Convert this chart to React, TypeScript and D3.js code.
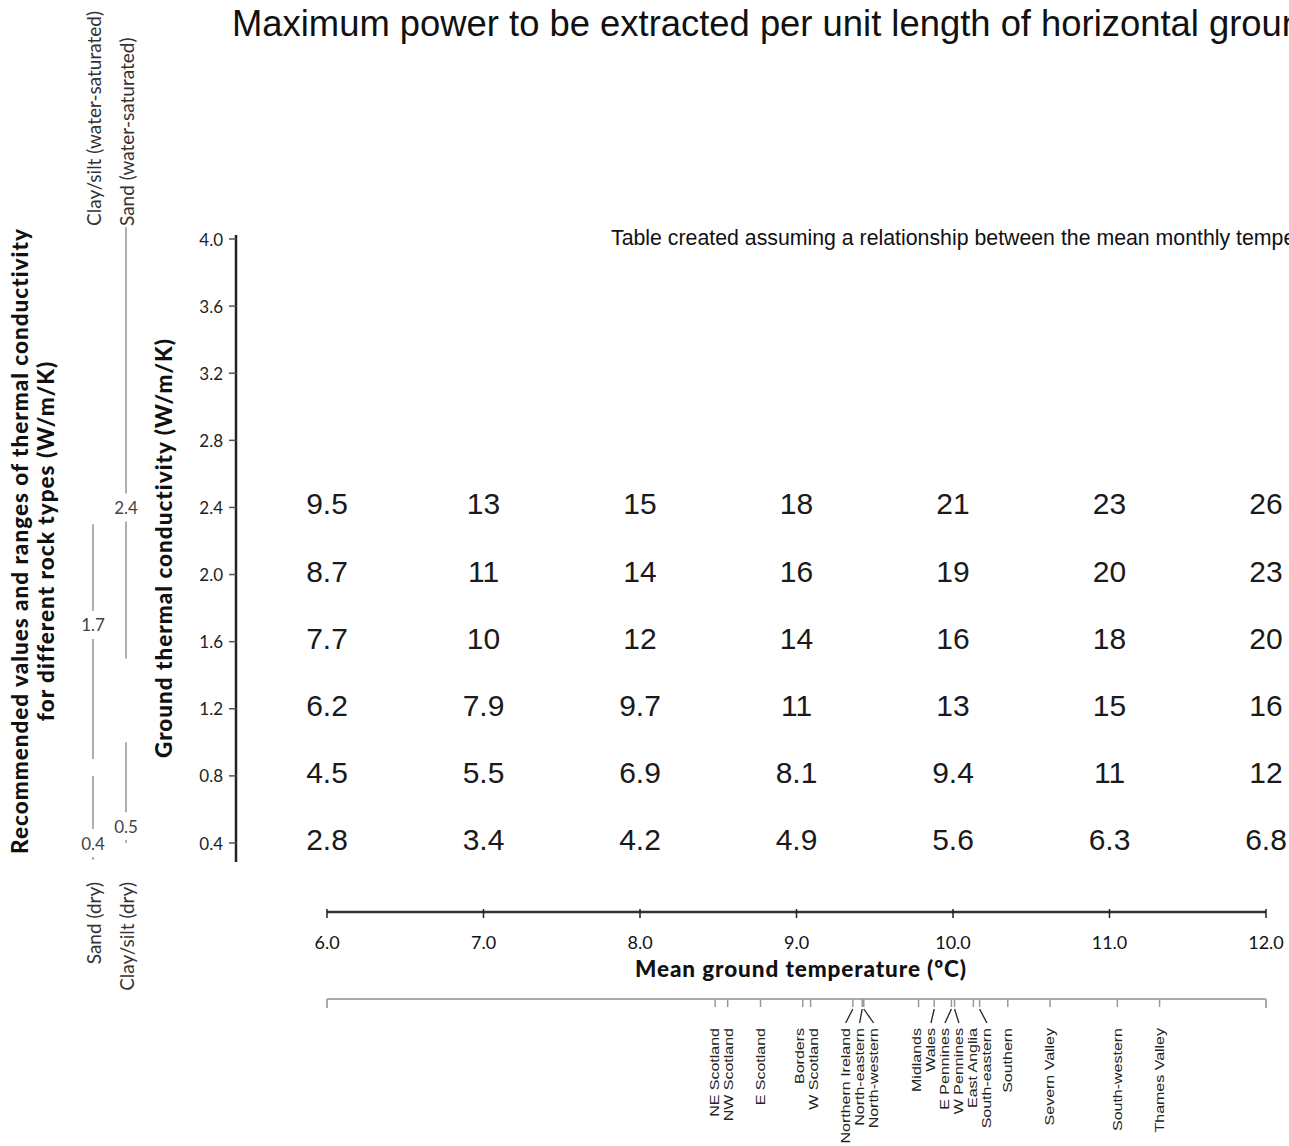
import React from 'react';
import * as d3 from 'd3';

// Mean ground temperature columns (°C) and ground thermal conductivity rows (W/m/K)
const temperatures = [6, 7, 8, 9, 10, 11, 12];
const conductivities = [2.4, 2.0, 1.6, 1.2, 0.8, 0.4];

// Maximum extractable power per metre of horizontal loop, one row per conductivity
const powerK24 = [9.5, 13, 15, 18, 21, 23, 26];
const powerK20 = [8.7, 11, 14, 16, 19, 20, 23];
const powerK16 = [7.7, 10, 12, 14, 16, 18, 20];
const powerK12 = [6.2, 7.9, 9.7, 11, 13, 15, 16];
const powerK08 = [4.5, 5.5, 6.9, 8.1, 9.4, 11, 12];
const powerK04 = [2.8, 3.4, 4.2, 4.9, 5.6, 6.3, 6.8];
const powerRows = [powerK24, powerK20, powerK16, powerK12, powerK08, powerK04];

const conductivityTicks = [4.0, 3.6, 3.2, 2.8, 2.4, 2.0, 1.6, 1.2, 0.8, 0.4];

// Rock types: range (low–high) and recommended value of thermal conductivity
const rockNames = ['Clay/silt (water-saturated)', 'Sand (dry)', 'Sand (water-saturated)', 'Clay/silt (dry)'];
const rockLow = [0.9, 0.3, 1.5, 0.4];
const rockHigh = [2.3, 0.8, 4.07, 1.0];
const rockRecommended = [1.7, 0.4, 2.4, 0.5];
const rockColumn = [0, 0, 1, 1];
const rockLabelAtTop = [true, false, true, false];

// Regional mean ground temperatures (°C)
const regionNames = [
  'NE Scotland', 'NW Scotland', 'E Scotland', 'Borders', 'W Scotland', 'Northern Ireland',
  'North-eastern', 'North-western', 'Midlands', 'Wales', 'E Pennines', 'W Pennines',
  'East Anglia', 'South-eastern', 'Southern', 'Severn Valley', 'South-western', 'Thames Valley',
];
const regionTemps = [
  8.48, 8.56, 8.77, 9.04, 9.09, 9.36,
  9.42, 9.43, 9.78, 9.88, 9.99, 10.01,
  10.13, 10.17, 10.35, 10.62, 11.05, 11.32,
];

const W = 1289;
const H = 1146;
const gill = "Lato, 'Open Sans', sans-serif";
const arial = "'Liberation Sans', Arial, sans-serif";

const x = d3.scaleLinear().domain([6, 12]).range([327, 1266]);
const y = d3.scaleLinear().domain([0.4, 4.0]).range([843, 239]);
const fmt1 = d3.format('.1f');

// spread labels apart so neighbouring rotated labels don't collide;
// also report the size of the crowded group each label ended up in
function dodge(xs: number[], gap: number): { pos: number[]; group: number[] } {
  const order = d3.range(xs.length).sort((a, b) => xs[a] - xs[b]);
  const pos = order.map((i) => xs[i]);
  for (let iter = 0; iter < 500; iter++) {
    let moved = false;
    for (let i = 1; i < pos.length; i++) {
      const d = pos[i] - pos[i - 1];
      if (d < gap - 0.01) {
        const s = (gap - d) / 2;
        pos[i - 1] -= s;
        pos[i] += s;
        moved = true;
      }
    }
    if (!moved) break;
  }
  // groups of labels sitting at the minimum spacing
  const groupId: number[] = [];
  let g = 0;
  for (let i = 0; i < pos.length; i++) {
    if (i > 0 && pos[i] - pos[i - 1] > gap + 0.5) g++;
    groupId.push(g);
  }
  const counts = d3.rollup(groupId, (v) => v.length, (d) => d);
  const outPos = new Array(xs.length);
  const outGroup = new Array(xs.length);
  order.forEach((i, k) => {
    outPos[i] = pos[k];
    outGroup[i] = counts.get(groupId[k]) as number;
  });
  return { pos: outPos, group: outGroup };
}

export default function App() {
  const axisX = 236;
  const xAxisY = 912;
  const regionAxisY = 999;
  const columnX = [93, 126];
  const recGap = 14;

  const regionX = regionTemps.map((t) => x(t));
  const { pos: labelX, group: labelGroup } = dodge(regionX, 14);

  return (
    <svg width={W} height={H} style={{ position: 'absolute', left: 0, top: 0, background: '#fff' }}>
      {/* title and note */}
      <text x={232} y={36} fontFamily={arial} fontSize={36.4} fill="#111">
        Maximum power to be extracted per unit length of horizontal ground heat exchanger (W/m)
      </text>
      <text x={611} y={245} fontFamily={arial} fontSize={21.3} fill="#111">
        Table created assuming a relationship between the mean monthly temperature
      </text>

      {/* left titles */}
      <g transform={`translate(28,541) rotate(-90)`}>
        <text textAnchor="middle" fontFamily={gill} fontWeight={900} fontSize={22.5} letterSpacing={1} fill="#111">
          Recommended values and ranges of thermal conductivity
        </text>
        <text y={26} textAnchor="middle" fontFamily={gill} fontWeight={900} fontSize={22.5} letterSpacing={1} fill="#111">
          for different rock types (W/m/K)
        </text>
      </g>

      {/* rock type ranges */}
      {rockNames.map((name, i) => {
        const cx = columnX[rockColumn[i]];
        const yr = y(rockRecommended[i]);
        const yHi = y(rockHigh[i]);
        const yLo = y(rockLow[i]);
        return (
          <g key={name}>
            <line x1={cx} x2={cx} y1={yHi} y2={Math.min(yr - recGap, yLo)} stroke="#9a9a9a" strokeWidth={1.6} />
            {yLo > yr + recGap && (
              <line x1={cx} x2={cx} y1={yr + recGap} y2={yLo} stroke="#9a9a9a" strokeWidth={1.6} />
            )}
            <text x={cx} y={yr} textAnchor="middle" dominantBaseline="central" fontFamily={gill} fontSize={17} fill="#444">
              {fmt1(rockRecommended[i])}
            </text>
            {rockLabelAtTop[i] ? (
              <text transform={`translate(${cx},226) rotate(-90)`} dominantBaseline="central" textAnchor="start"
                fontFamily={gill} fontSize={19} fill="#333">{name}</text>
            ) : (
              <text transform={`translate(${cx},882) rotate(-90)`} dominantBaseline="central" textAnchor="end"
                fontFamily={gill} fontSize={19} fill="#333">{name}</text>
            )}
          </g>
        );
      })}

      {/* conductivity axis */}
      <text transform={`translate(163,548) rotate(-90)`} textAnchor="middle" dominantBaseline="central"
        fontFamily={gill} fontWeight={900} fontSize={22.5} letterSpacing={1} fill="#111">
        Ground thermal conductivity (W/m/K)
      </text>
      <line x1={axisX} x2={axisX} y1={235} y2={862} stroke="#222" strokeWidth={2.5} />
      {conductivityTicks.map((t) => (
        <g key={t} transform={`translate(0,${y(t)})`}>
          <line x1={axisX - 7} x2={axisX} stroke="#555" strokeWidth={1.5} />
          <text x={223} textAnchor="end" dominantBaseline="central" fontFamily={gill} fontSize={17} fill="#222">
            {fmt1(t)}
          </text>
        </g>
      ))}

      {/* power values */}
      {powerRows.map((row, r) =>
        row.map((v, c) => (
          <text key={`${r}-${c}`} x={x(temperatures[c])} y={y(conductivities[r])} dy={7}
            textAnchor="middle" fontFamily={arial} fontSize={30} fill="#1a1a1a">
            {String(v)}
          </text>
        ))
      )}

      {/* temperature axis */}
      <line x1={x(6)} x2={x(12)} y1={xAxisY} y2={xAxisY} stroke="#333" strokeWidth={2.5} />
      {temperatures.map((t) => (
        <g key={t} transform={`translate(${x(t)},0)`}>
          <line y1={xAxisY - 3} y2={xAxisY + 6} stroke="#222" strokeWidth={1.5} />
          <text y={949} textAnchor="middle" fontFamily={gill} fontSize={18} fill="#111">{fmt1(t)}</text>
        </g>
      ))}
      <text x={801} y={977} textAnchor="middle" fontFamily={gill} fontWeight={900} fontSize={22.5} letterSpacing={0.9} fill="#111">
        Mean ground temperature (ºC)
      </text>

      {/* regional temperatures */}
      <line x1={x(6)} x2={x(12)} y1={regionAxisY} y2={regionAxisY} stroke="#aaa" strokeWidth={2} />
      <line x1={x(6)} x2={x(6)} y1={regionAxisY} y2={regionAxisY + 9} stroke="#aaa" strokeWidth={2} />
      <line x1={x(12)} x2={x(12)} y1={regionAxisY} y2={regionAxisY + 9} stroke="#aaa" strokeWidth={2} />
      {regionNames.map((name, i) => {
        const tx = regionX[i];
        const lx = labelX[i];
        const showLeader = labelGroup[i] >= 3 && Math.abs(lx - tx) > 2;
        return (
          <g key={name}>
            <line x1={tx} x2={tx} y1={regionAxisY} y2={regionAxisY + 8} stroke="#999" strokeWidth={1.5} />
            {showLeader && (
              <line x1={tx} x2={lx} y1={regionAxisY + 10} y2={regionAxisY + 24} stroke="#222" strokeWidth={1.3} />
            )}
            <text transform={`translate(${lx},1028) rotate(-90) scale(1,0.8)`} textAnchor="end" dominantBaseline="central"
              fontFamily={arial} fontSize={16} fill="#222">{name}</text>
          </g>
        );
      })}
    </svg>
  );
}
